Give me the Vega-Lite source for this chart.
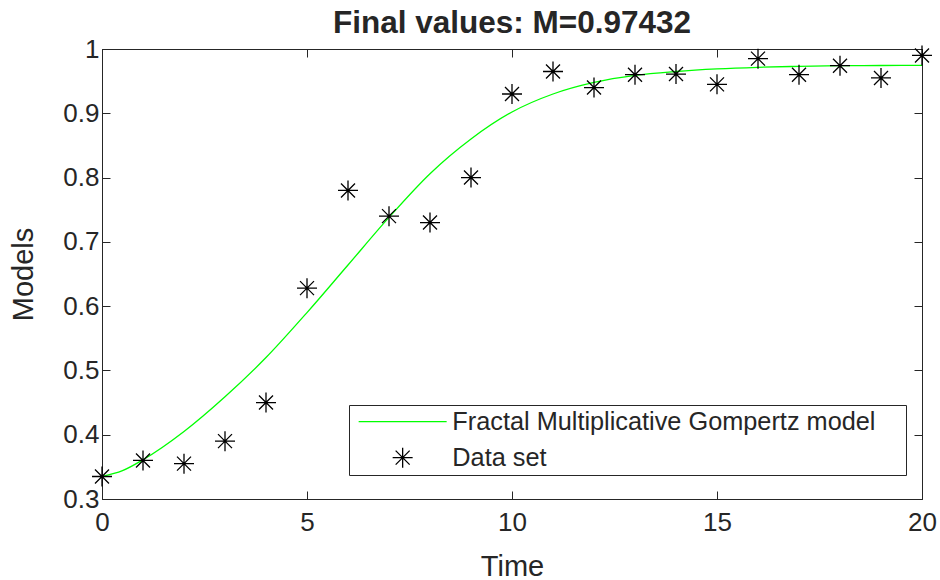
{
  "$schema": "https://vega.github.io/schema/vega-lite/v6.json",
  "width": 820,
  "height": 450,
  "autosize": {"type": "none"},
  "padding": {"left": 102, "top": 49, "right": 18, "bottom": 81},
  "background": "white",
  "title": {"text": "Final values: M=0.97432", "fontSize": 31.5, "fontWeight": "bold", "font": "Liberation Sans", "color": "#262626", "baseline": "alphabetic", "offset": 14, "dy": 42, "anchor": "middle"},
  "config": {
    "view": {"stroke": "#262626", "strokeWidth": 1},
    "axis": {"domainColor": "#262626", "tickColor": "#262626", "labelColor": "#262626", "titleColor": "#262626", "labelFont": "Liberation Sans", "titleFont": "Liberation Sans", "labelFontSize": 26, "titleFontSize": 29, "titleFontWeight": "normal", "grid": false, "tickSize": -8, "domainWidth": 1, "tickWidth": 1, "labelFlush": false},
    "legend": {"labelFont": "Liberation Sans", "labelFontSize": 25.3, "labelColor": "#262626", "symbolSize": 400, "symbolStrokeWidth": 1.3, "symbolOffset": 37, "labelOffset": 37, "padding": 4, "rowPadding": 10, "strokeColor": "#262626", "fillColor": "white", "cornerRadius": 0, "labelLimit": 0, "titleOrient": "right", "titlePadding": 27, "titleFontSize": 10, "titleColor": "#ffffff"}
  },
  "datasets": {
    "fit": [
      {"t": 0, "m": 0.335, "series": "Fractal Multiplicative Gompertz model"},
      {"t": 0.5, "m": 0.344, "series": "Fractal Multiplicative Gompertz model"},
      {"t": 1, "m": 0.361, "series": "Fractal Multiplicative Gompertz model"},
      {"t": 2, "m": 0.405, "series": "Fractal Multiplicative Gompertz model"},
      {"t": 3, "m": 0.459, "series": "Fractal Multiplicative Gompertz model"},
      {"t": 4, "m": 0.52, "series": "Fractal Multiplicative Gompertz model"},
      {"t": 5, "m": 0.59, "series": "Fractal Multiplicative Gompertz model"},
      {"t": 6, "m": 0.664, "series": "Fractal Multiplicative Gompertz model"},
      {"t": 7, "m": 0.738, "series": "Fractal Multiplicative Gompertz model"},
      {"t": 8, "m": 0.806, "series": "Fractal Multiplicative Gompertz model"},
      {"t": 9, "m": 0.86, "series": "Fractal Multiplicative Gompertz model"},
      {"t": 10, "m": 0.902, "series": "Fractal Multiplicative Gompertz model"},
      {"t": 11, "m": 0.93, "series": "Fractal Multiplicative Gompertz model"},
      {"t": 12, "m": 0.948, "series": "Fractal Multiplicative Gompertz model"},
      {"t": 13, "m": 0.959, "series": "Fractal Multiplicative Gompertz model"},
      {"t": 14, "m": 0.965, "series": "Fractal Multiplicative Gompertz model"},
      {"t": 15, "m": 0.969, "series": "Fractal Multiplicative Gompertz model"},
      {"t": 16, "m": 0.9715, "series": "Fractal Multiplicative Gompertz model"},
      {"t": 17, "m": 0.973, "series": "Fractal Multiplicative Gompertz model"},
      {"t": 18, "m": 0.974, "series": "Fractal Multiplicative Gompertz model"},
      {"t": 19, "m": 0.9743, "series": "Fractal Multiplicative Gompertz model"},
      {"t": 20, "m": 0.9745, "series": "Fractal Multiplicative Gompertz model"}
    ],
    "obs": [
      {"t": 0, "m": 0.335, "series": "Data set"},
      {"t": 1, "m": 0.36, "series": "Data set"},
      {"t": 2, "m": 0.355, "series": "Data set"},
      {"t": 3, "m": 0.39, "series": "Data set"},
      {"t": 4, "m": 0.45, "series": "Data set"},
      {"t": 5, "m": 0.628, "series": "Data set"},
      {"t": 6, "m": 0.78, "series": "Data set"},
      {"t": 7, "m": 0.74, "series": "Data set"},
      {"t": 8, "m": 0.73, "series": "Data set"},
      {"t": 9, "m": 0.8, "series": "Data set"},
      {"t": 10, "m": 0.93, "series": "Data set"},
      {"t": 11, "m": 0.965, "series": "Data set"},
      {"t": 12, "m": 0.94, "series": "Data set"},
      {"t": 13, "m": 0.96, "series": "Data set"},
      {"t": 14, "m": 0.961, "series": "Data set"},
      {"t": 15, "m": 0.945, "series": "Data set"},
      {"t": 16, "m": 0.985, "series": "Data set"},
      {"t": 17, "m": 0.96, "series": "Data set"},
      {"t": 18, "m": 0.974, "series": "Data set"},
      {"t": 19, "m": 0.955, "series": "Data set"},
      {"t": 20, "m": 0.99, "series": "Data set"}
    ]
  },
  "layer": [
    {
      "data": {"name": "fit"},
      "mark": {"type": "line", "strokeWidth": 1.3, "interpolate": "monotone"},
      "encoding": {
        "x": {"field": "t", "type": "quantitative", "scale": {"domain": [0, 20], "nice": false}, "axis": {"orient": "bottom", "values": [0, 5, 10, 15, 20], "title": "Time", "labelPadding": 18, "titleBaseline": "alphabetic", "titleY": 76}},
        "y": {"field": "m", "type": "quantitative", "scale": {"domain": [0.3, 1], "nice": false, "zero": false}, "axis": {"orient": "left", "values": [0.3, 0.4, 0.5, 0.6, 0.7, 0.8, 0.9, 1], "format": ".1~f", "title": "Models", "labelPadding": 11, "titleAngle": -90, "titleBaseline": "alphabetic", "titleX": -70, "titleY": 225}},
        "color": {"field": "series", "type": "nominal", "scale": {"domain": ["Fractal Multiplicative Gompertz model", "Data set"], "range": ["#00ff00", "#000000"]}, "legend": {"title": "\u00a0", "orient": "none", "legendX": 247, "legendY": 356}}
      }
    },
    {
      "data": {"name": "obs"},
      "mark": {"type": "point", "filled": false, "size": 400, "strokeWidth": 1.3, "opacity": 1},
      "encoding": {
        "x": {"field": "t", "type": "quantitative", "axis": {"orient": "top", "values": [0, 5, 10, 15, 20], "labels": false, "title": null}},
        "y": {"field": "m", "type": "quantitative", "axis": {"orient": "right", "values": [0.3, 0.4, 0.5, 0.6, 0.7, 0.8, 0.9, 1], "labels": false, "title": null}},
        "color": {"field": "series", "type": "nominal", "legend": {"title": "\u00a0", "orient": "none", "legendX": 247, "legendY": 356}},
        "shape": {"field": "series", "type": "nominal", "scale": {"domain": ["Fractal Multiplicative Gompertz model", "Data set"], "range": ["M-4.4,0H4.4", "M-1,0H1M0,-1V1M-0.7,-0.7L0.7,0.7M-0.7,0.7L0.7,-0.7"]}, "legend": {"title": "\u00a0", "orient": "none", "legendX": 247, "legendY": 356}}
      }
    }
  ],
  "resolve": {"axis": {"x": "independent", "y": "independent"}}
}
